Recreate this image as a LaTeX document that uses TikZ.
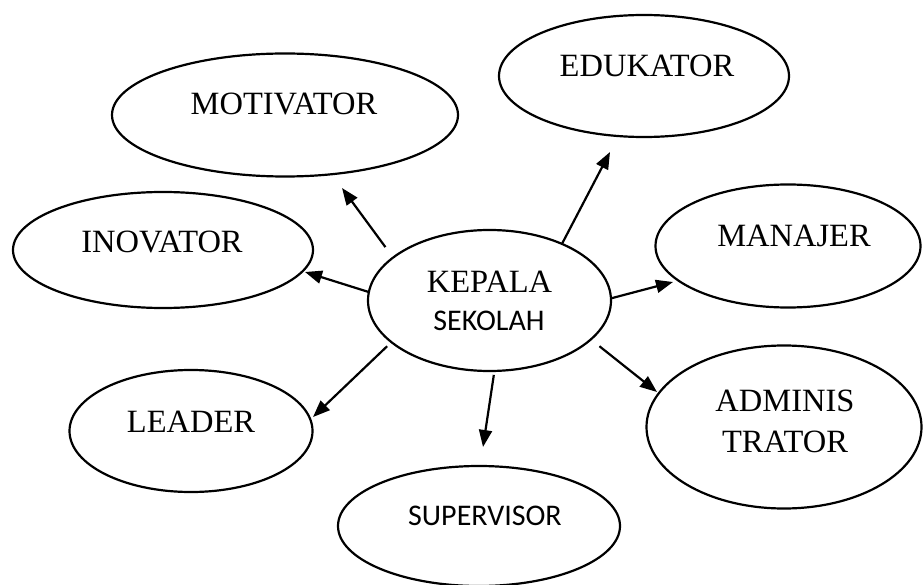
\documentclass[tikz,border=0pt]{standalone}
\usepackage{fontspec}
\setmainfont{Liberation Serif}
\newfontfamily\calib{Carlito}
\usetikzlibrary{arrows.meta,shapes.geometric}
\tikzset{
  oval/.style={ellipse, draw, line width=2.2pt, inner sep=0pt, outer sep=0pt},
  lbl/.style={anchor=base, inner sep=0pt, font=\fontsize{32.5}{32.5}\selectfont},
  lbls/.style={anchor=base, inner sep=0pt, font=\calib\fontsize{30}{30}\selectfont},
  arr/.style={line width=2.2pt, -{Triangle[length=17pt,width=13pt]}}
}
\begin{document}
\begin{tikzpicture}[x=1pt,y=-1pt]
\useasboundingbox (0,0) rectangle (923,585);
% ellipses
\node[oval, minimum width=346pt, minimum height=123pt] (mot) at (285,115) {};
\node[oval, minimum width=290pt, minimum height=122pt] (edu) at (644,76) {};
\node[oval, minimum width=300pt, minimum height=116pt] (ino) at (163,250) {};
\node[oval, minimum width=265pt, minimum height=123pt] (man) at (788,246) {};
\node[oval, minimum width=243pt, minimum height=141pt] (kep) at (489.5,300.5) {};
\node[oval, minimum width=243pt, minimum height=122pt] (lea) at (191,431) {};
\node[oval, minimum width=275pt, minimum height=163pt] (adm) at (784,427) {};
\node[oval, minimum width=282pt, minimum height=120pt] (sup) at (479,526) {};
% labels
\node[lbl] (tmot) at (284,115) {MOTIVATOR};
\node[lbl] (tedu) at (647,77) {EDUKATOR};
\node[lbl] (tino) at (162,253) {INOVATOR};
\node[lbl] (tman) at (794,247) {MANAJER};
\node[lbl] (tkep) at (489.5,292) {KEPALA};
\node[lbls] (tsek) at (489,330) {SEKOLAH};
\node[lbl] (tlea) at (191,432) {LEADER};
\node[lbl] (tadm1) at (785,411) {ADMINIS};
\node[lbl] (tadm2) at (785,452) {TRATOR};
\node[lbls] (tsup) at (485,525) {SUPERVISOR};
% arrow tips
\coordinate (pmot) at (342,188);
\coordinate (pedu) at (610,152);
\coordinate (pino) at (305,272);
\coordinate (pman) at (673,282);
\coordinate (padm) at (657,392);
\coordinate (psup) at (483,447);
\coordinate (plea) at (313,417);
% arrows
\draw[arr, shorten <=13pt] (kep.156.9) -- (pmot);
\draw[arr] (kep.38.4) -- (pedu);
\draw[arr] (kep.176) -- (pino);
\draw[arr] (kep.1.2) -- (pman);
\draw[arr, shorten <=11pt] (kep.-21.5) -- (padm);
\draw[arr, shorten <=4pt] (kep.-86.7) -- (psup);
\draw[arr, shorten <=6pt] (kep.203.6) -- (plea);
\end{tikzpicture}
\end{document}
